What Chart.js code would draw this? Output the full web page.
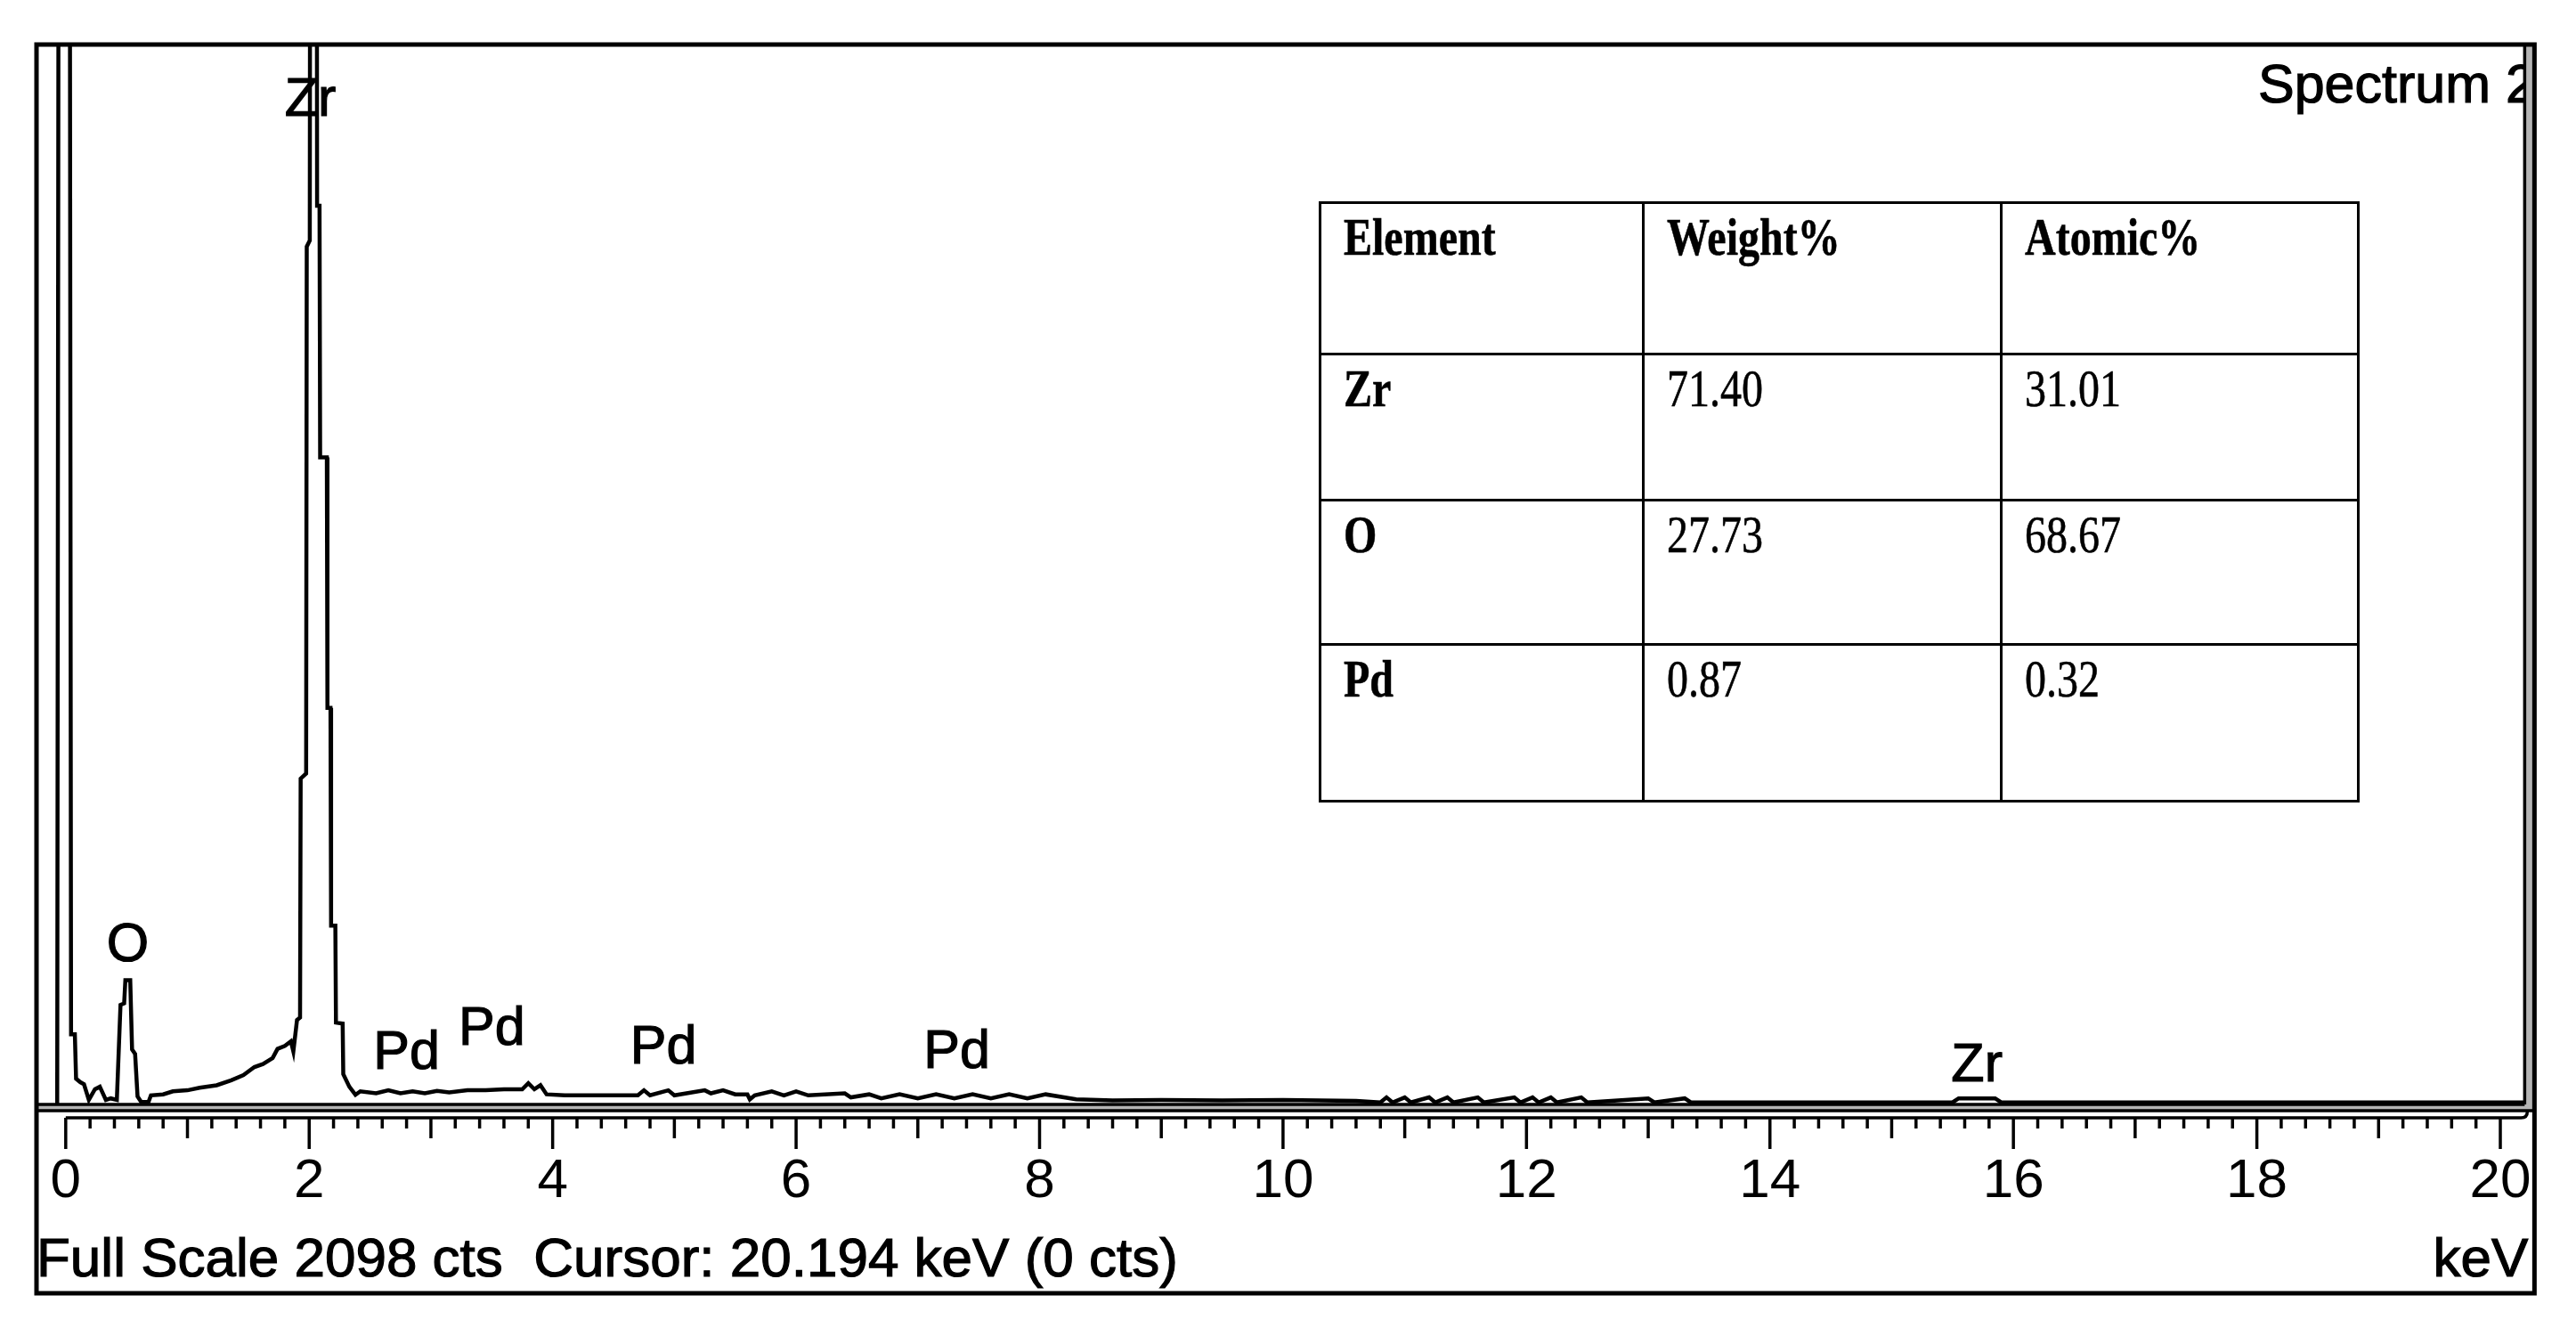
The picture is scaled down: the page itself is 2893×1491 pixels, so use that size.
<!DOCTYPE html>
<html>
<head>
<meta charset="utf-8">
<title>Spectrum 2</title>
<script src="https://cdn.jsdelivr.net/npm/chart.js@4.4.1/dist/chart.umd.min.js"></script>
<style>
  html, body { margin: 0; padding: 0; background: #fff; }
  #wrap { position: relative; width: 2893px; height: 1491px; overflow: hidden; }
  #spectrum { position: absolute; left: 0; top: 0; }
  #quant {
    position: absolute; left: 1481px; top: 226px; width: 1168px; height: 674px;
    border-collapse: collapse; table-layout: fixed;
    font-family: "Liberation Serif", "Times New Roman", serif; font-size: 60px; color: #000;
  }
  #quant td { border: 3px solid #000; vertical-align: top; padding: 7px 0 0 25px; line-height: 1; }
  #quant span { display: inline-block; transform: scaleX(0.8); transform-origin: left top; white-space: nowrap; -webkit-text-stroke: 0.6px #000; }
  #quant .b { font-weight: bold; }
</style>
</head>
<body>
<div id="wrap">
  <canvas id="spectrum" width="2893" height="1491"></canvas>
  <table id="quant"></table>
</div>
<script>
// spectrum (keV / counts)
const energyKeV = [
  -0.07, -0.055, -0.01, 0.03, 0.044, 0.075, 0.085, 0.12, 0.15, 0.19,
  0.24, 0.28, 0.33, 0.37, 0.42, 0.45, 0.48, 0.49, 0.53, 0.545,
  0.57, 0.59, 0.62, 0.68, 0.70, 0.80, 0.88, 1.00, 1.10, 1.24,
  1.36, 1.46, 1.55, 1.62, 1.70, 1.74, 1.80, 1.85, 1.87, 1.90,
  1.925, 1.93, 1.975, 1.98, 2.005, 2.01, 2.06, 2.065, 2.085, 2.09,
  2.145, 2.15, 2.175, 2.18, 2.215, 2.22, 2.275, 2.28, 2.33, 2.38,
  2.42, 2.55, 2.65, 2.75, 2.85, 2.95, 3.05, 3.15, 3.30, 3.45,
  3.60, 3.75, 3.80, 3.85, 3.90, 3.95, 4.10, 4.30, 4.50, 4.70,
  4.75, 4.80, 4.95, 5.00, 5.25, 5.30, 5.40, 5.50, 5.60, 5.62,
  5.66, 5.80, 5.90, 6.00, 6.10, 6.40, 6.45, 6.60, 6.70, 6.85,
  7.00, 7.15, 7.30, 7.45, 7.60, 7.75, 7.90, 8.05, 8.20, 8.30,
  8.60, 9.00, 9.50, 10.00, 10.60, 10.80, 10.85, 10.90, 11.00, 11.05,
  11.20, 11.25, 11.35, 11.40, 11.60, 11.65, 11.90, 11.95, 12.05, 12.10,
  12.20, 12.25, 12.45, 12.50, 13.00, 13.05, 13.30, 13.35, 15.50, 15.55,
  15.85, 15.90, 20.20
];
const counts = [
  0, 3200, 5200, 3200, 139, 139, 51, 44, 40, 9,
  30, 35, 9, 12, 9, 197, 200, 246, 246, 109,
  100, 16, 5, 5, 18, 20, 26, 28, 33, 38,
  48, 58, 74, 80, 92, 110, 116, 125, 105, 167,
  172, 645, 655, 1698, 1710, 3100, 3100, 1779, 1779, 1281,
  1281, 785, 785, 354, 354, 162, 160, 60, 35, 19,
  26, 22, 28, 22, 26, 22, 27, 24, 28, 28,
  30, 30, 42, 30, 38, 20, 18, 18, 18, 18,
  28, 18, 28, 18, 28, 22, 28, 20, 20, 10,
  18, 26, 18, 26, 18, 22, 14, 20, 12, 20,
  12, 20, 12, 20, 12, 20, 12, 20, 14, 10,
  8, 9, 8, 9, 7, 4, 14, 4, 14, 4,
  14, 4, 14, 4, 14, 4, 14, 4, 14, 4,
  14, 4, 14, 4, 12, 4, 12, 4, 4, 12,
  12, 4, 4
];

const fullScaleCts = 2098;
const xTickValues = [0, 2, 4, 6, 8, 10, 12, 14, 16, 18, 20];

const peakLabels = ['Zr', 'O', 'Pd', 'Pd', 'Pd', 'Pd', 'Zr'];
const peakLabelKeV = [2.01, 0.51, 2.80, 3.50, 4.91, 7.32, 15.70];
const peakLabelCts = [1957, 284, 70, 118, 81, 72, 46];

const tableHeaders = ['Element', 'Weight%', 'Atomic%'];
const elements = ['Zr', 'O', 'Pd'];
const weightPct = ['71.40', '27.73', '0.87'];
const atomicPct = ['31.01', '68.67', '0.32'];

const spectrumName = 'Spectrum 2';
const cursorText = 'Cursor: 20.194 keV (0 cts)';

const FONT = '"Liberation Sans", Arial, sans-serif';

function buildTable() {
  const colWidths = [363, 402, 401];
  const rowHeights = [170, 164, 162, 176];
  let html = '<colgroup>' + colWidths.map(w => `<col style="width:${w}px">`).join('') + '</colgroup>';
  html += `<tr style="height:${rowHeights[0]}px">` +
    tableHeaders.map(h => `<td><span class="b">${h}</span></td>`).join('') + '</tr>';
  elements.forEach((el, i) => {
    html += `<tr style="height:${rowHeights[i + 1]}px">
      <td><span class="b">${el}</span></td>
      <td><span>${weightPct[i]}</span></td>
      <td><span>${atomicPct[i]}</span></td>
    </tr>`;
  });
  document.getElementById('quant').innerHTML = html;
}

// text drawn slightly heavier, like the blurred screen font of the original
function heavyText(ctx, text, px, py) {
  ctx.fillText(text, px, py);
  ctx.strokeText(text, px, py);
}

const edsFrame = {
  id: 'edsFrame',
  beforeDraw(chart) {
    const ctx = chart.ctx;
    ctx.save();
    ctx.fillStyle = '#fff';
    ctx.fillRect(0, 0, chart.width, chart.height);
    ctx.restore();
  },
  afterDraw(chart) {
    const { ctx, chartArea: a, scales: { x, y } } = chart;
    const left = a.left, top = a.top, base = a.bottom;
    const panelRight = a.right, outerRight = a.right + 11, outerBottom = a.bottom + 212;
    const rulerY = base + 15;

    ctx.save();

    // peak labels
    ctx.fillStyle = '#000';
    ctx.strokeStyle = '#000';
    ctx.lineWidth = 1.2;
    ctx.font = `61px ${FONT}`;
    ctx.textAlign = 'center';
    ctx.textBaseline = 'alphabetic';
    peakLabels.forEach((t, i) => {
      heavyText(ctx, t, x.getPixelForValue(peakLabelKeV[i]), y.getPixelForValue(peakLabelCts[i]));
    });

    // spectrum name, cut by the panel edge
    ctx.save();
    ctx.beginPath();
    ctx.rect(left, top, panelRight - left - 1, base - top);
    ctx.clip();
    ctx.textAlign = 'left';
    heavyText(ctx, spectrumName, 2536, top + 65);
    ctx.restore();

    // grey bands of the double borders
    ctx.fillStyle = '#b4b4b4';
    ctx.fillRect(panelRight, top, outerRight - panelRight, base + 7 - top);
    ctx.fillRect(left, base, outerRight - left, 7);

    ctx.strokeStyle = '#000';
    ctx.lineCap = 'butt';
    ctx.lineWidth = 3.5;
    ctx.beginPath();
    ctx.moveTo(panelRight, top); ctx.lineTo(panelRight, base);
    ctx.moveTo(left, base); ctx.lineTo(panelRight, base);
    ctx.moveTo(left, base + 7); ctx.lineTo(outerRight, base + 7);
    ctx.stroke();

    // ruler
    const x0 = x.getPixelForValue(0);
    ctx.lineWidth = 3.5;
    ctx.beginPath();
    ctx.moveTo(x0, rulerY);
    ctx.lineTo(panelRight - 4, rulerY);
    ctx.quadraticCurveTo(panelRight + 3, rulerY, panelRight + 3, base + 8);
    ctx.stroke();
    for (let i = 0; i <= 100; i++) {
      const px = x.getPixelForValue(i / 5);
      const len = i % 10 === 0 ? 35 : (i % 5 === 0 ? 23 : 12);
      ctx.beginPath();
      ctx.moveTo(px, rulerY);
      ctx.lineTo(px, rulerY + len);
      ctx.stroke();
    }

    // outer frame
    ctx.lineWidth = 5;
    ctx.strokeRect(left, top, outerRight - left, outerBottom - top);

    // footer texts
    ctx.fillStyle = '#000';
    ctx.lineWidth = 1.2;
    ctx.font = `62px ${FONT}`;
    ctx.textAlign = 'left';
    heavyText(ctx, `Full Scale ${fullScaleCts} cts  ${cursorText}`, left, base + 193);
    ctx.textAlign = 'right';
    heavyText(ctx, 'keV', outerRight - 7, base + 193);

    ctx.restore();
  }
};

function initChart() {
  buildTable();
  const points = energyKeV.map((e, i) => ({ x: e, y: counts[i] }));

  new Chart(document.getElementById('spectrum'), {
    type: 'line',
    data: {
      datasets: [{
        data: points,
        borderColor: '#000',
        borderWidth: 4.5,
        pointRadius: 0,
        tension: 0,
        fill: false
      }]
    },
    options: {
      responsive: false,
      animation: false,
      devicePixelRatio: 1,
      layout: { padding: { left: 41, right: 52, top: 50, bottom: 121 } },
      plugins: {
        legend: { display: false },
        tooltip: { enabled: false }
      },
      scales: {
        x: {
          type: 'linear',
          min: -0.24,
          max: 20.2,
          afterBuildTicks: s => { s.ticks = xTickValues.map(v => ({ value: v })); },
          afterFit: s => { s.height = 130; },
          grid: { display: false, drawTicks: false },
          border: { display: false },
          ticks: {
            autoSkip: false,
            maxRotation: 0,
            padding: 50,
            color: '#000',
            font: { family: FONT, size: 62 },
            callback: v => String(v)
          }
        },
        y: { display: false, min: 0, max: fullScaleCts }
      }
    },
    plugins: [edsFrame]
  });
}

if (document.readyState === 'loading') {
  document.addEventListener('DOMContentLoaded', initChart);
} else {
  initChart();
}
</script>
</body>
</html>
